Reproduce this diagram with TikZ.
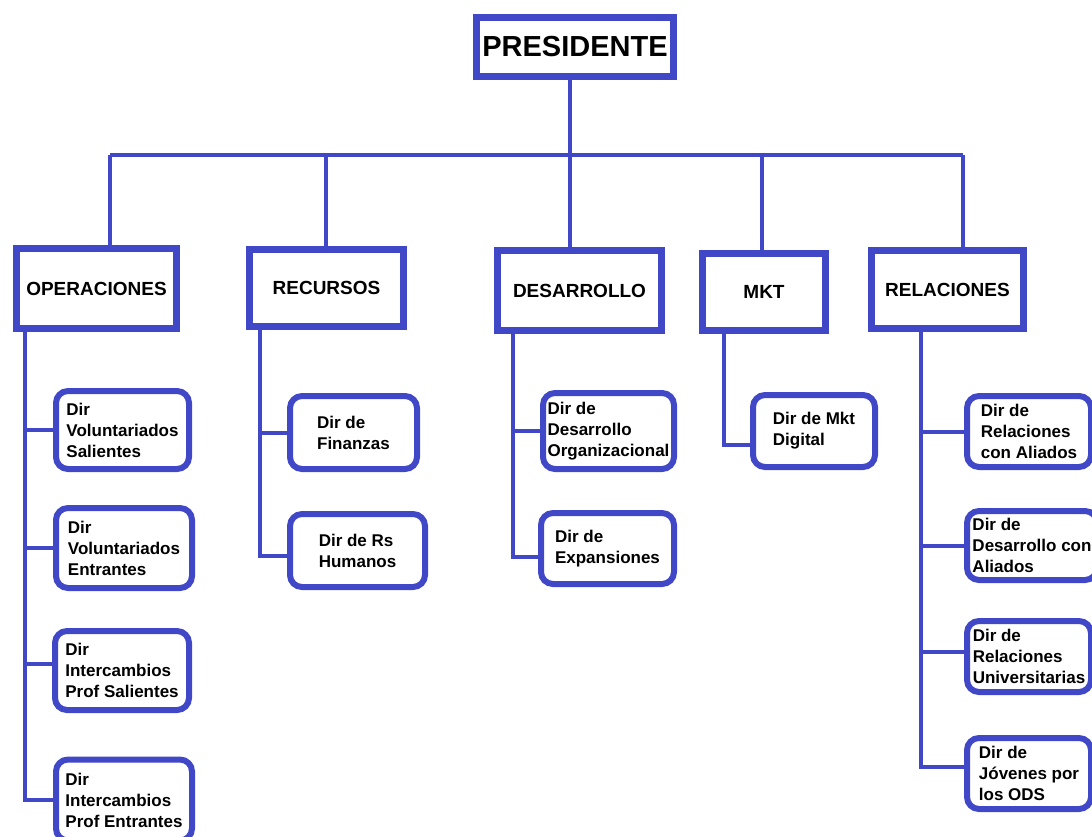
\documentclass[tikz,border=0pt]{standalone}
\usepackage{fontspec}
\setmainfont{Liberation Sans}
\usetikzlibrary{positioning}
\definecolor{orgblue}{RGB}{64,72,200}
\tikzset{
    area/.style={
        draw=orgblue,
        line width=7pt,
        fill=white,
        inner sep=0pt,
        font=\bfseries\fontsize{19}{23}\selectfont
    },
    dir/.style={
        draw=orgblue,
        line width=6pt,
        rounded corners=12pt,
        fill=white,
        inner sep=4pt,
        align=left,
        font=\bfseries\fontsize{17}{21}\selectfont
    },
    bus/.style={
        draw=orgblue,
        line width=4pt
    }
}

\begin{document}
\begin{tikzpicture}[x=1pt, y=-1pt]
                    \useasboundingbox (0,0) rectangle (1092,836);

                    \node[area, minimum width=197pt, minimum height=59pt, font=\bfseries\fontsize{29}{33}\selectfont] (pres) at (575,47) {PRESIDENTE};
                    \node[area, minimum width=160pt, minimum height=80pt] (ope) at (96.5,288.5) {OPERACIONES};
                    \node[area, minimum width=154pt, minimum height=77pt] (rec) at (326.5,288) {RECURSOS};
                    \node[area, minimum width=164pt, minimum height=80pt] (des) at (579.5,290.5) {DESARROLLO};
                    \node[area, minimum width=123pt, minimum height=77pt] (mkt) at (764,292) {MKT};
                    \node[area, minimum width=152pt, minimum height=78pt] (rel) at (947.5,289.5) {RELACIONES};

                    \node[dir, minimum width=133pt, minimum height=78pt] (o1) at (122.5,430) {Dir\\Voluntariados\\Salientes};
                    \node[dir, minimum width=136pt, minimum height=80pt] (o2) at (124,548) {Dir\\Voluntariados\\Entrantes};
                    \node[dir, minimum width=134pt, minimum height=79pt] (o3) at (122,670.5) {Dir\\Intercambios\\Prof Salientes};
                    \node[dir, minimum width=136pt, minimum height=81pt] (o4) at (124,800) {Dir\\Intercambios\\Prof Entrantes};

                    \node[dir, minimum width=127pt, minimum height=73pt] (r1) at (353.5,432.5) {Dir de\\Finanzas};
                    \node[dir, minimum width=135pt, minimum height=73pt] (r2) at (357.5,550.5) {Dir de Rs\\Humanos};

                    \node[dir, minimum width=131pt, minimum height=76pt] (d1) at (608.5,431) {Dir de\\Desarrollo\\Organizacional};
                    \node[dir, minimum width=133pt, minimum height=71pt] (d2) at (607.5,548.5) {Dir de\\Expansiones};

                    \node[dir, minimum width=122pt, minimum height=72pt] (m1) at (814,431) {Dir de Mkt\\Digital};

                    \node[dir, minimum width=124pt, minimum height=71pt] (l1) at (1029,431.5) {Dir de\\Relaciones\\con Aliados};
                    \node[dir, minimum width=130pt, minimum height=69pt] (l2) at (1032,545.5) {Dir de\\Desarrollo con\\Aliados};
                    \node[dir, minimum width=124pt, minimum height=71pt] (l3) at (1029,656.5) {Dir de\\Relaciones\\Universitarias};
                    \node[dir, minimum width=124pt, minimum height=71pt] (l4) at (1029,773.5) {Dir de\\Jóvenes por\\los ODS};

                    \coordinate (bus) at (570,155);
                    \coordinate (b-ope) at (110,155);
                    \coordinate (b-rec) at (326,155);
                    \coordinate (b-des) at (570,155);
                    \coordinate (b-mkt) at (762,155);
                    \coordinate (b-rel) at (963,155);

                    \draw[bus] (pres.south -| bus) -- (bus);
                    \draw[bus] (b-ope) -- (b-rel);
                    \foreach \a in {ope,rec,des,mkt,rel}
                        \draw[bus] (b-\a) -- (b-\a |- \a.north);

                    \coordinate (s-ope) at (25,329);
                    \coordinate (s-rec) at (260,329);
                    \coordinate (s-des) at (513,331);
                    \coordinate (s-mkt) at (724,331);
                    \coordinate (s-rel) at (921,329);

                    \draw[bus] (s-ope) |- (o4.west);
                    \draw[bus] (s-ope) |- (o1.west);
                    \draw[bus] (s-ope) |- (o2.west);
                    \draw[bus] (s-ope) |- ([yshift=7pt]o3.west);
                    \draw[bus] (s-rec) |- ([yshift=-5pt]r2.west);
                    \draw[bus] (s-rec) |- (r1.west);
                    \draw[bus] (s-des) |- ([yshift=-8pt]d2.west);
                    \draw[bus] (s-des) |- (d1.west);
                    \draw[bus] (s-mkt) |- ([yshift=-14pt]m1.west);
                    \draw[bus] (s-rel) |- ([yshift=7pt]l4.west);
                    \draw[bus] (s-rel) |- (l1.west);
                    \draw[bus] (s-rel) |- (l2.west);
                    \draw[bus] (s-rel) |- ([yshift=5pt]l3.west);

                \end{tikzpicture}
\end{document}
